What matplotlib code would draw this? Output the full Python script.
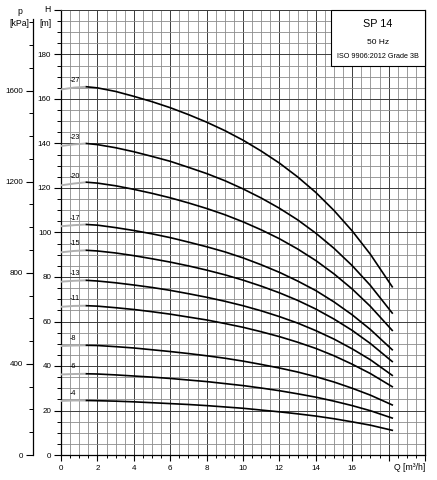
import matplotlib
matplotlib.use('Agg')
import matplotlib.pyplot as plt
from matplotlib.patches import Rectangle
from matplotlib.ticker import MultipleLocator, FixedLocator, FixedFormatter

plt.rcParams['font.family'] = ['Liberation Sans', 'DejaVu Sans']

# flow points [m3/h]
q_pts = [0, 0.7, 1.4, 2, 3, 4, 5, 6, 7, 8, 9, 10, 11, 12, 13, 14, 15, 16, 17, 18.2]

# head [m] per pump variant (number of stages)
h_27 = [164.3, 165.1, 165.5, 165.0, 163.4, 161.2, 158.8, 156.1, 153.0, 149.6, 145.8, 141.5, 136.6, 131.2, 125.0, 118.0, 109.9, 100.7, 90.2, 75.6]
h_23 = [138.9, 139.6, 140.0, 139.5, 138.1, 136.3, 134.2, 132.0, 129.3, 126.5, 123.3, 119.6, 115.5, 110.9, 105.7, 99.7, 92.9, 85.1, 76.2, 63.8]
h_20 = [121.2, 122.0, 122.6, 122.2, 121.0, 119.4, 117.6, 115.6, 113.3, 110.8, 108.0, 104.8, 101.2, 97.2, 92.6, 87.4, 81.4, 74.6, 66.8, 56.0]
h_17 = [102.8, 103.3, 103.6, 103.3, 102.2, 100.9, 99.4, 97.7, 95.7, 93.6, 91.3, 88.6, 85.5, 82.1, 78.2, 73.9, 68.8, 63.0, 56.4, 47.3]
h_15 = [91.1, 91.7, 92.0, 91.7, 90.8, 89.6, 88.2, 86.7, 85.0, 83.1, 81.0, 78.6, 75.9, 72.9, 69.5, 65.6, 61.1, 56.0, 50.1, 42.0]
h_13 = [77.9, 78.3, 78.5, 78.2, 77.4, 76.4, 75.3, 74.0, 72.5, 70.9, 69.1, 67.1, 64.8, 62.2, 59.3, 55.9, 52.1, 47.7, 42.8, 35.8]
h_11 = [66.6, 67.0, 67.1, 66.9, 66.2, 65.4, 64.4, 63.3, 62.0, 60.7, 59.1, 57.4, 55.4, 53.2, 50.7, 47.9, 44.6, 40.8, 36.6, 30.7]
h_8 = [49.0, 49.2, 49.3, 49.2, 48.7, 48.1, 47.3, 46.5, 45.6, 44.6, 43.5, 42.2, 40.7, 39.1, 37.3, 35.2, 32.8, 30.0, 26.9, 22.5]
h_6 = [36.2, 36.4, 36.5, 36.4, 36.0, 35.5, 35.0, 34.4, 33.7, 33.0, 32.1, 31.2, 30.1, 28.9, 27.5, 26.0, 24.2, 22.2, 19.9, 16.6]
h_4 = [24.3, 24.5, 24.5, 24.4, 24.2, 23.9, 23.5, 23.1, 22.7, 22.2, 21.6, 21.0, 20.2, 19.4, 18.5, 17.5, 16.3, 14.9, 13.4, 11.1]

curve_names = ['-27', '-23', '-20', '-17', '-15', '-13', '-11', '-8', '-6', '-4']
curves = [h_27, h_23, h_20, h_17, h_15, h_13, h_11, h_8, h_6, h_4]

x_ticks = [0, 2, 4, 6, 8, 10, 12, 14, 16, 18, 20]
x_labels = ['0', '2', '4', '6', '8', '10', '12', '14', '16', '', '']
h_ticks = [0, 20, 40, 60, 80, 100, 120, 140, 160, 180, 200]
h_labels = ['0', '20', '40', '60', '80', '100', '120', '140', '160', '180', '']
p_ticks = [0, 400, 800, 1200, 1600]
p_labels = ['0', '400', '800', '1200', '1600']

W, H = 437, 480
kpa_per_m = 9.77
grey_end = 2          # index where the black part of each curve starts


def px(x, y):
    return x / W, 1 - y / H


fig = plt.figure(figsize=(W / 100, H / 100), dpi=100)
rect = [61 / W, 25 / H, 364 / W, 445 / H]
ax = fig.add_axes(rect)

# curves: grey start, black working range
for name, h in zip(curve_names, curves):
    ax.plot(q_pts[:grey_end + 1], h[:grey_end + 1], color='#b0b0b0', lw=1.4, zorder=4,
            solid_capstyle='butt')
    ax.plot(q_pts[grey_end:], h[grey_end:], color='black', lw=1.2, zorder=5,
            solid_joinstyle='round')
    ax.text(0.45, h[1] + 1.6, name, fontsize=5.2, ha='left', va='bottom', zorder=6)

ax.set_xlim(0, 20)
ax.set_ylim(0, 200)
ax.xaxis.set_major_locator(FixedLocator(x_ticks))
ax.xaxis.set_major_formatter(FixedFormatter(x_labels))
ax.xaxis.set_minor_locator(MultipleLocator(0.5))
ax.yaxis.set_major_locator(FixedLocator(h_ticks))
ax.yaxis.set_major_formatter(FixedFormatter(h_labels))
ax.yaxis.set_minor_locator(MultipleLocator(5))

ax.grid(True, which='major', color='#3c3c3c', lw=0.7, zorder=1)
ax.grid(True, which='minor', color='#8c8c8c', lw=0.6, zorder=1)
ax.set_axisbelow(True)

ax.tick_params(axis='both', which='major', labelsize=5.8, width=0.8, color='black')
ax.tick_params(axis='y', which='major', length=5, pad=2)
ax.tick_params(axis='y', which='minor', length=3, width=0.7)
ax.tick_params(axis='x', which='major', length=4, pad=3)
ax.tick_params(axis='x', which='minor', length=2, width=0.7)
for s in ['left', 'bottom', 'right']:
    ax.spines[s].set_linewidth(0.9)
ax.spines['top'].set_color('#3c3c3c')
ax.spines['top'].set_linewidth(0.7)

# info box top right
ax.add_patch(Rectangle((14.83, 174.8), 5.17, 25.2, facecolor='white', edgecolor='black',
                       lw=0.8, zorder=7, clip_on=False))
ax.text(17.4, 193.6, 'SP 14', fontsize=7.8, ha='center', va='center', zorder=8)
ax.text(17.4, 185.3, '50 Hz', fontsize=6.0, ha='center', va='center', zorder=8)
ax.text(17.4, 178.9, 'ISO 9906:2012 Grade 3B', fontsize=5.2, ha='center', va='center', zorder=8)

# pressure axis on the far left
axp = fig.add_axes(rect)
axp.patch.set_visible(False)
axp.set_ylim(0, 200 * kpa_per_m)
axp.set_xticks([])
for s in ['top', 'right', 'bottom']:
    axp.spines[s].set_visible(False)
axp.spines['left'].set_position(('axes', -28 / 364))
axp.spines['left'].set_bounds(0, 1915)
axp.spines['left'].set_linewidth(0.9)
axp.yaxis.set_major_locator(FixedLocator(p_ticks))
axp.yaxis.set_major_formatter(FixedFormatter(p_labels))
axp.yaxis.set_minor_locator(MultipleLocator(100))
axp.tick_params(axis='y', which='major', length=5, width=0.8, labelsize=5.8, pad=2)
axp.tick_params(axis='y', which='minor', length=3, width=0.7)

# axis titles
fig.text(*px(20, 12), 'p', fontsize=6.2, ha='center', va='center')
fig.text(*px(19.5, 24), '[kPa]', fontsize=6.2, ha='center', va='center')
fig.text(*px(47, 10), 'H', fontsize=6.2, ha='center', va='center')
fig.text(*px(45, 24), '[m]', fontsize=6.2, ha='center', va='center')
fig.text(*px(425, 468), 'Q [m³/h]', fontsize=6.2, ha='right', va='center')

fig.savefig('out.png', dpi=100)
plt.close()
